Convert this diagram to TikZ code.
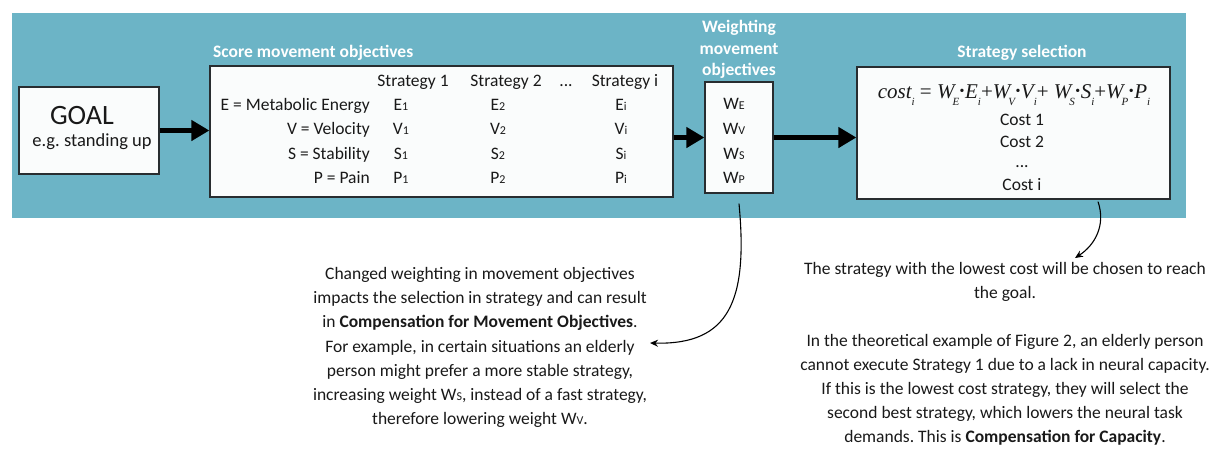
\documentclass[tikz,border=0pt]{standalone}
\usepackage{fontspec}
\setmainfont{Carlito}
\newfontfamily\tms{Liberation Serif}
\usetikzlibrary{arrows.meta}
\definecolor{bgteal}{RGB}{108,180,198}
\definecolor{boxfill}{RGB}{250,252,252}
\definecolor{boxline}{RGB}{40,45,48}
\definecolor{txtcol}{RGB}{25,25,25}
\frenchspacing
\newcommand\sn[1]{{\fontsize{12}{12}\selectfont #1}}
\newcommand\fsub[1]{\raisebox{-7pt}{\fontsize{11}{11}\selectfont\itshape #1}}
\newcommand\fdot{\raisebox{2.5pt}{\upshape\fontsize{14}{14}\selectfont•}}
\newcommand\wterm[3]{W\kern-2pt\fsub{#1}\kern0.5pt\fdot\kern0.5pt #2\fsub{#3}}
\tikzset{
  box/.style={draw=boxline, fill=boxfill, line width=1.3pt, inner sep=0pt},
  txt/.style={font=\fontsize{17.5}{21}\selectfont, text=txtcol, inner sep=0pt, anchor=base},
  ttl/.style={font=\bfseries\fontsize{17.5}{21}\selectfont, text=white, inner sep=0pt, anchor=base},
  bigarrow/.style={line width=4.5pt, draw=black, -{Triangle[length=18pt,width=20pt]}},
  curvearrow/.style={line width=1.1pt, draw=black, -{Stealth[length=8pt,width=7pt]}}
}
\begin{document}
\begin{tikzpicture}[x=1pt,y=-1pt]
\useasboundingbox (0,0) rectangle (1215,448);
\fill[white] (0,0) rectangle (1215,448);
\fill[bgteal] (12,13) rectangle (1186,218);

% GOAL box
\node[box, minimum width=140pt, minimum height=87pt] (goal) at (89,130.5) {};
\node[txt, font=\fontsize{28}{28}\selectfont] (goalt) at (82,124) {GOAL};
\node[txt, font=\fontsize{18.5}{20}\selectfont] (goalsub) at (92,146) {e.g. standing up};

% Score box
\node[box, minimum width=463pt, minimum height=131pt] (score) at (441.5,131.5) {};
\node[ttl, anchor=base west] (scoret) at (213,57) {Score movement objectives};
\node[txt] (h1) at (413,86) {Strategy 1};
\node[txt] (h2) at (506,86) {Strategy 2};
\node[txt] (h3) at (566,86) {...};
\node[txt] (h4) at (625,86) {Strategy i};
\node[txt, anchor=base east] (rE) at (370,110) {E = Metabolic Energy};
\node[txt, anchor=base east] (rV) at (370,134) {V = Velocity};
\node[txt, anchor=base east] (rS) at (370,159) {S = Stability};
\node[txt, anchor=base east] (rP) at (370,183) {P = Pain};
\node[txt] (e1) at (401,110) {E\sn{1}};
\node[txt] (v1) at (401,134) {V\sn{1}};
\node[txt] (s1) at (401,159) {S\sn{1}};
\node[txt] (p1) at (401,183) {P\sn{1}};
\node[txt] (e2) at (498,110) {E\sn{2}};
\node[txt] (v2) at (498,134) {V\sn{2}};
\node[txt] (s2) at (498,159) {S\sn{2}};
\node[txt] (p2) at (498,183) {P\sn{2}};
\node[txt] (ei) at (621,110) {E\sn{i}};
\node[txt] (vi) at (621,134) {V\sn{i}};
\node[txt] (si) at (621,159) {S\sn{i}};
\node[txt] (pi) at (621,183) {P\sn{i}};

% Weighting box
\node[box, minimum width=68pt, minimum height=111pt] (wbox) at (739,137.5) {};
\node[ttl] (wt1) at (739,32) {Weighting};
\node[ttl] (wt2) at (739,54) {movement};
\node[ttl] (wt3) at (739,75) {objectives};
\node[txt] (wE) at (734,109) {W\sn{E}};
\node[txt] (wV) at (734,134) {W\sn{V}};
\node[txt] (wS) at (734,159) {W\sn{S}};
\node[txt] (wP) at (734,183) {W\sn{P}};

% Strategy selection box
\node[box, minimum width=313pt, minimum height=132pt] (strat) at (1013.5,133) {};
\node[ttl] (stt) at (1022,57) {Strategy selection};
\node[txt, font=\tms\fontsize{21}{21}\selectfont\itshape] (formula) at (1014,98)
  {cost\fsub{i} \upshape=\itshape\ \wterm{E}{E}{i}\upshape+\itshape\wterm{V}{V}{i}\upshape+\itshape\ \wterm{S}{S}{i}\upshape+\itshape\wterm{P}{P}{i}};
\node[txt] (c1) at (1022,125) {Cost 1};
\node[txt] (c2) at (1022,147) {Cost 2};
\node[txt] (c3) at (1022,167) {...};
\node[txt] (ci) at (1022,190) {Cost i};

% main arrows
\draw[bigarrow] (goal.east) -- (goal.east -| score.west);
\draw[bigarrow] (score.east |- wbox.west) -- (wbox.west);
\draw[bigarrow] (wbox.east) -- (wbox.east -| strat.west);

% left paragraph
\foreach \t [count=\k] in {{Changed weighting in movement objectives},
  {impacts the selection in strategy and can result},
  {in \textbf{Compensation for Movement Objectives}.},
  {For example, in certain situations an elderly},
  {person might prefer a more stable strategy,},
  {increasing weight W\sn{S}, instead of a fast strategy,},
  {therefore lowering weight W\sn{V}.}}
  \node[txt] (lp\k) at (480,{279.5+24.2*(\k-1)}) {\t};

% right paragraph
\node[txt] (rp1) at (1005,274) {The strategy with the lowest cost will be chosen to reach};
\node[txt] (rp2) at (1005,298) {the goal.};
\foreach \t [count=\k] in {{In the theoretical example of Figure 2, an elderly person},
  {cannot execute Strategy 1 due to a lack in neural capacity.},
  {If this is the lowest cost strategy, they will select the},
  {second best strategy, which lowers the neural task},
  {demands. This is \textbf{Compensation for Capacity}.}}
  \node[txt] (rq\k) at (1005,{346+24.2*(\k-1)}) {\t};

% curved arrows
\coordinate (c1e) at (650,343);
\draw[curvearrow] ([yshift=-10pt]wbox.south) .. controls (748,300) and (730,345) .. (c1e);
\coordinate (c2e) at (1075,258);
\draw[curvearrow] ([xshift=84.5pt,yshift=-2pt]strat.south) .. controls (1106,225) and (1095,245) .. (c2e);
\end{tikzpicture}
\end{document}
